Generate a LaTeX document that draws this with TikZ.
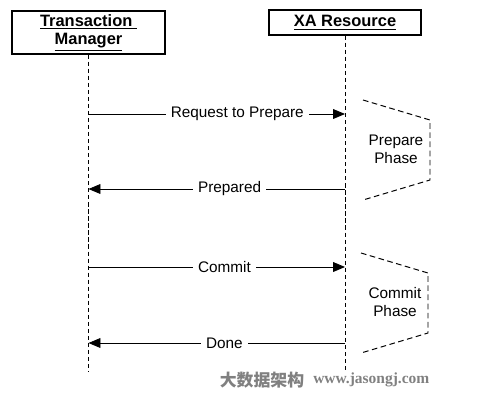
\documentclass[tikz,border=0pt]{standalone}
\usepackage{fontspec}
\setmainfont{Liberation Sans}
\newfontfamily\cjkfont{Noto Sans CJK SC}
\newfontfamily\markfont{Liberation Serif}
\usetikzlibrary{arrows.meta,positioning}
\tikzset{
  Actor/.style = {draw, rectangle, line width=0.9pt, font=\fontsize{11.7}{13.2}\selectfont\bfseries, align=center, inner sep=2pt},
  Life/.style  = {draw, line width=0.6pt, dash pattern=on 3pt off 2pt},
  Msg/.style   = {draw, line width=0.6pt, -{Triangle[length=8.5pt,width=7pt]}},
  Label/.style = {fill=white, inner sep=3.5pt},
  Phase/.style = {draw=black, line width=0.7pt, dash pattern=on 4pt off 2.5pt},
  Mark/.style  = {text=black!50, inner sep=0pt}
}

\begin{document}
\begin{tikzpicture}[x=0.025cm, y=-0.025cm, font=\fontsize{10.9}{12.8}\selectfont]
    \useasboundingbox (0,0) rectangle (502,404);
    % participants
    \node[Actor, minimum width=3.825cm, minimum height=1.075cm] (tm) at (88.5,32.5)
        {\underline{Transaction\ }\\\underline{Manager}};
    \node[Actor, minimum width=3.8cm, minimum height=0.625cm] (xa) at (345,22.5)
        {\underline{XA Resource}};
    \coordinate (tmEnd) at (tm.south |- 0,372);
    \coordinate (xaEnd) at (xa.south |- 0,372);
    \draw[Life] (tm.south) -- (tmEnd);
    \draw[Life] (xa.south) -- (xaEnd);
    % message points
    \coordinate (tmReq)  at (tm.south |- 0,114);
    \coordinate (xaReq)  at (xa.south |- 0,114);
    \coordinate (tmPrep) at (tm.south |- 0,189);
    \coordinate (xaPrep) at (xa.south |- 0,189);
    \coordinate (tmCom)  at (tm.south |- 0,267);
    \coordinate (xaCom)  at (xa.south |- 0,267);
    \coordinate (tmDone) at (tm.south |- 0,343);
    \coordinate (xaDone) at (xa.south |- 0,343);
    % messages
    \draw[Msg] (tmReq)  -- node[Label, pos=0.58] (req)  {Request to Prepare} (xaReq);
    \draw[Msg] (xaPrep) -- node[Label, pos=0.45] (prep) {Prepared} (tmPrep);
    \draw[Msg] (tmCom)  -- node[Label, pos=0.53] (com)  {Commit} (xaCom);
    \draw[Msg] (xaDone) -- node[Label, pos=0.47] (done) {Done} (tmDone);
    % phases
    \draw[Phase] (363,100) -- (430,120) -- (430,180) -- (363,200);
    \node[align=center] (prepPhase) at (396,149) {Prepare\\Phase};
    \draw[Phase] (361,253) -- (428,273) -- (428,333) -- (361,353);
    \node[align=center] (comPhase) at (395,302) {Commit\\Phase};
    % watermark
    \node[Mark, font=\fontsize{12}{14}\selectfont\cjkfont\bfseries] (wmText) at (262,380) {大数据架构};
    \node[Mark, font=\fontsize{11}{13}\selectfont\markfont\bfseries, anchor=west] (wmUrl) at (313,380) {www.jasongj.com};
\end{tikzpicture}
\end{document}
